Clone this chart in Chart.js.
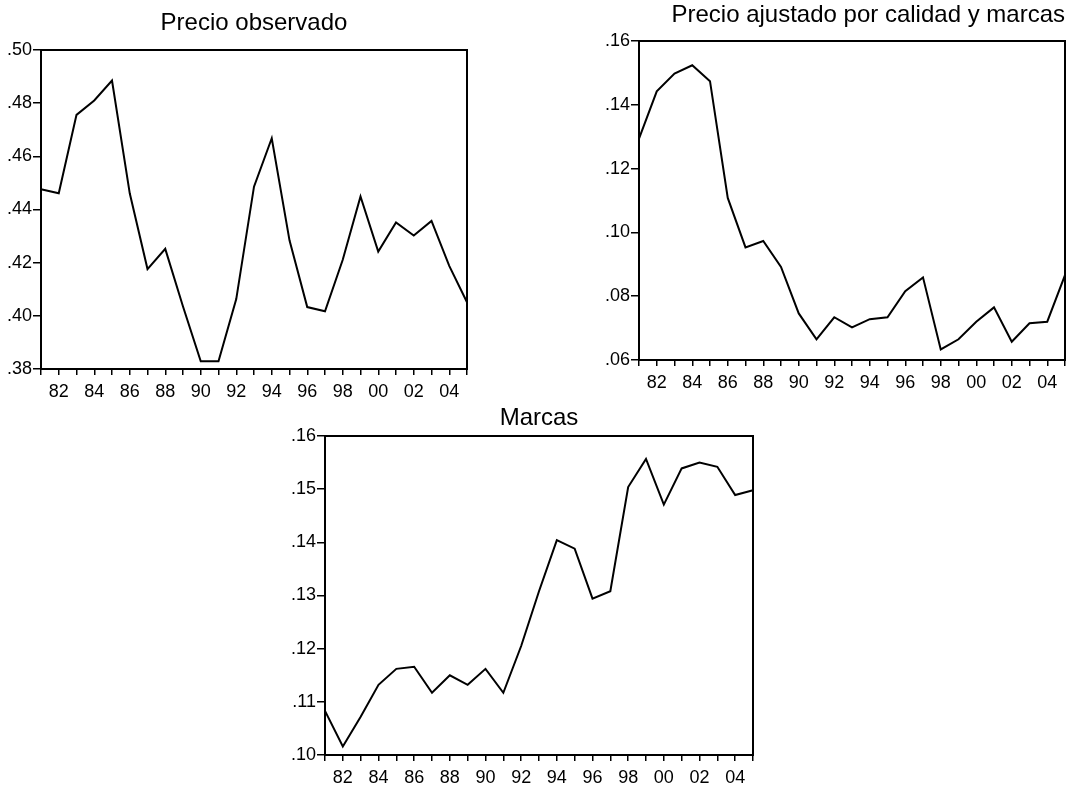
<!DOCTYPE html>
<html>
<head>
<meta charset="utf-8">
<script src="https://cdn.jsdelivr.net/npm/chart.js@4.4.1/dist/chart.umd.min.js"></script>
<style>
  html, body { margin: 0; padding: 0; background: #fff; }
  body { width: 1077px; height: 790px; position: relative; overflow: hidden; }
  canvas { position: absolute; }
</style>
</head>
<body>
<canvas id="c1" width="490" height="404" style="left:0px;top:0px;width:490px;height:404px"></canvas>
<canvas id="c2" width="497" height="395" style="left:580px;top:0px;width:497px;height:395px"></canvas>
<canvas id="c3" width="480" height="395" style="left:280px;top:395px;width:480px;height:395px"></canvas>
<script>
const years = ['81','82','83','84','85','86','87','88','89','90','91','92','93','94','95','96','97','98','99','00','01','02','03','04','05'];

const precioObservado = [0.4476,0.4461,0.4756,0.4810,0.4885,0.4461,0.4176,0.4252,0.4035,0.3829,0.3829,0.4063,0.4486,0.4668,0.4284,0.4033,0.4017,0.4211,0.4449,0.4242,0.4351,0.4302,0.4357,0.4188,0.4051];

const precioAjustado = [0.1294,0.1442,0.1498,0.1524,0.1474,0.1108,0.0953,0.0973,0.0892,0.0746,0.0665,0.0734,0.0702,0.0728,0.0734,0.0816,0.0859,0.0633,0.0665,0.0720,0.0765,0.0657,0.0715,0.0720,0.0866];

const marcas = [0.1083,0.1016,0.1072,0.1132,0.1162,0.1166,0.1117,0.1150,0.1132,0.1162,0.1117,0.1205,0.1308,0.1404,0.1388,0.1294,0.1308,0.1504,0.1557,0.1471,0.1539,0.1550,0.1542,0.1489,0.1498];

const titles = ['Precio observado', 'Precio ajustado por calidad y marcas', 'Marcas'];

const FONT = "'Liberation Sans', Arial, Helvetica, sans-serif";

const boxPlugin = {
  id: 'box',
  afterDraw(chart) {
    const a = chart.chartArea, ctx = chart.ctx;
    ctx.save();
    ctx.strokeStyle = '#000';
    ctx.lineWidth = 2;
    ctx.strokeRect(a.left, a.top, a.right - a.left, a.bottom - a.top);
    ctx.restore();
  }
};

function makeChart(id, title, data, cfg) {
  new Chart(document.getElementById(id), {
    type: 'line',
    data: {
      labels: years,
      datasets: [{
        data: data,
        borderColor: '#000',
        borderWidth: 2,
        pointRadius: 0,
        tension: 0,
        fill: false
      }]
    },
    options: {
      responsive: false,
      animation: false,
      events: [],
      layout: { padding: { left: 0, right: cfg.padRight, top: 0, bottom: 0 } },
      plugins: {
        legend: { display: false },
        tooltip: { enabled: false },
        title: {
          display: true,
          text: title,
          color: '#000',
          align: cfg.titleAlign,
          fullSize: false,
          font: { family: FONT, size: 24, weight: 'normal', lineHeight: 1 },
          padding: { top: cfg.titleTop, bottom: cfg.titleBottom }
        }
      },
      scales: {
        x: {
          type: 'category',
          offset: false,
          grid: { display: true, drawOnChartArea: false, drawTicks: true, tickLength: 6, color: '#000', lineWidth: 1.5 },
          border: { display: true, color: '#000', width: 2 },
          ticks: {
            autoSkip: false,
            maxRotation: 0,
            minRotation: 0,
            padding: 6,
            color: '#000',
            font: { family: FONT, size: 18 },
            callback: function(v, i) { return i % 2 === 1 ? years[i] : ''; }
          },
          afterFit: function(s) { s.height = 35; }
        },
        y: {
          min: cfg.min,
          max: cfg.max,
          grid: { display: true, drawOnChartArea: false, drawTicks: true, tickLength: 8, color: '#000', lineWidth: 1.5 },
          border: { display: true, color: '#000', width: 2 },
          ticks: {
            stepSize: cfg.step,
            padding: 1,
            color: '#000',
            font: { family: FONT, size: 18 },
            callback: function(v) { return v.toFixed(2).replace(/^0\./, '.'); }
          },
          afterFit: function(s) { s.width = cfg.yWidth; }
        }
      }
    },
    plugins: [boxPlugin]
  });
}

makeChart('c1', titles[0], precioObservado, { min: 0.38, max: 0.50, step: 0.02, yWidth: 41, padRight: 23, titleTop: 11, titleBottom: 15, titleAlign: 'center' });
makeChart('c2', titles[1], precioAjustado, { min: 0.06, max: 0.16, step: 0.02, yWidth: 59, padRight: 12, titleTop: 3, titleBottom: 14, titleAlign: 'end' });
makeChart('c3', titles[2], marcas, { min: 0.10, max: 0.16, step: 0.01, yWidth: 45, padRight: 7, titleTop: 11, titleBottom: 6, titleAlign: 'center' });
</script>
</body>
</html>
